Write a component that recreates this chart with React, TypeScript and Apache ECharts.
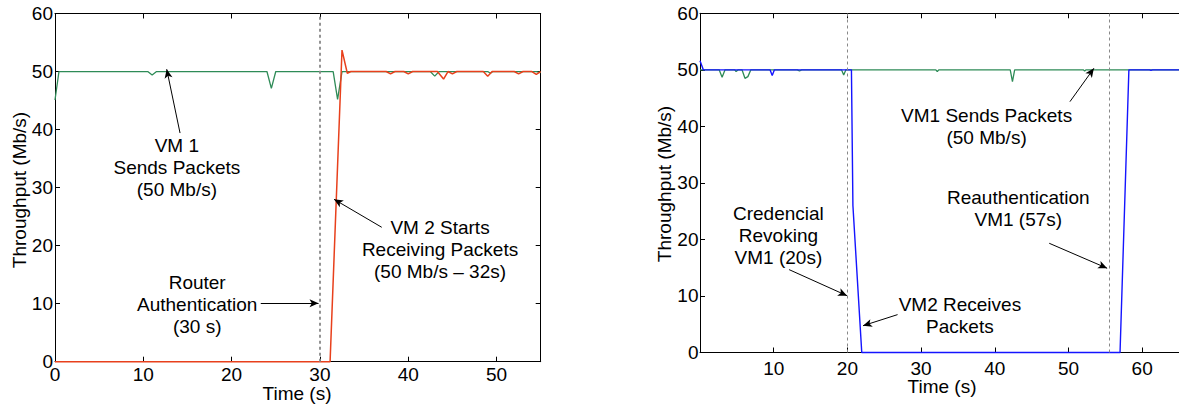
import React, { useEffect, useRef } from "react";
import * as echarts from "echarts";

// ---------- data (time in s, throughput in Mb/s) ----------
const leftVm1: [number, number][] = [
  [0, 45.1], [0.45, 50], [10.5, 50], [11, 49.4], [11.5, 50], [24, 50], [24.5, 47.1], [25, 50],
  [31.5, 50], [32, 45.2], [32.5, 50], [42.5, 50], [43, 49.2], [43.5, 50], [49, 50], [49.3, 49.7],
  [49.6, 50], [54.5, 50], [55, 49.8],
];
const leftVm2: [number, number][] = [
  [0, 0], [31.15, 0], [32.5, 53.7], [33.1, 49.7], [33.5, 50], [37.5, 50], [38, 49.6], [38.5, 50],
  [39.5, 50], [40, 49.6], [40.5, 50], [43.3, 50], [44, 48.7], [44.5, 50], [45, 49.6], [45.5, 50],
  [48.5, 50], [49, 49.2], [49.5, 50], [52, 50], [52.5, 49.6], [53, 50], [54, 50], [54.5, 49.5], [55, 50],
];
const rightVm1: [number, number][] = [
  [0, 50], [2.6, 50], [3, 48.7], [3.4, 50], [4.7, 50], [4.9, 49.7], [5.2, 50], [5.7, 50], [6.1, 48.5],
  [6.5, 48.8], [6.9, 50], [13.2, 50], [13.5, 49.8], [13.8, 50], [19.2, 50], [19.5, 49.1], [19.8, 50],
  [32, 50], [32.2, 49.7], [32.4, 50], [42.1, 50], [42.4, 47.9], [42.7, 50], [52, 50], [52.2, 49.8],
  [52.4, 50], [65, 50],
];
const rightVm2: [number, number][] = [
  [0, 51.6], [0.45, 50], [9.5, 50], [9.8, 49], [10.1, 50], [20.55, 50], [20.75, 26], [21.95, 0],
  [57, 0], [58.2, 50], [61, 50], [61.2, 49.9], [61.4, 50], [65, 50],
];

// axis extents
const leftXMax = 55;
const rightXMax = 65;
const yMax = 60;
const tickStep = 10;

// event markers (s)
const leftEvents = [30];
const rightEvents = [20, 55.5];

// annotation texts, anchored at data coordinates
const leftNotes = [
  { text: "VM 1\nSends Packets\n(50 Mb/s)", at: [13.8, 33.5] },
  { text: "Router\nAuthentication\n(30 s)", at: [16.1, 9.94] },
  { text: "VM 2 Starts\nReceiving Packets\n(50 Mb/s \u2013 32s)", at: [43.6, 19.4] },
];
const leftArrows = [
  [[14.16, 39.4], [12.65, 50.4]],
  [[23.3, 10.06], [29.84, 10.06]],
  [[37.0, 23.16], [31.6, 27.98]],
];
const rightNotes = [
  { text: "VM1 Sends Packets\n(50 Mb/s)", at: [38.89, 40.03] },
  { text: "Reauthentication\nVM1 (57s)", at: [43.19, 25.56] },
  { text: "Credencial\nRevoking\nVM1 (20s)", at: [10.64, 20.66] },
  { text: "VM2 Receives\nPackets", at: [35.27, 6.51] },
];
const rightArrows = [
  [[50.2, 44.37], [53.45, 50.27]],
  [[47.39, 19.32], [55.25, 14.9]],
  [[12.09, 14.66], [19.95, 10.05]],
  [[26.81, 6.7], [22.12, 4.74]],
];

const xTitle = "Time (s)";
const yTitle = "Throughput (Mb/s)";

// ---------- styles ----------
const FONT = "'Liberation Sans', Arial, Helvetica, sans-serif";
const FS = 19;
const GREEN = "#2e8b57";
const RED = "#e8401c";
const BLUE = "#1414ff";

function xAxisCfg(grid: number, max: number, pos: "top" | "bottom", margin: number, hideMin: boolean) {
  return {
    type: "value",
    gridIndex: grid,
    position: pos,
    min: 0,
    max,
    interval: tickStep,
    axisLine: { show: true, onZero: false, lineStyle: { color: "#000", width: 1 } },
    axisTick: { show: true, inside: true, length: 5, lineStyle: { color: "#000", width: 1 } },
    axisLabel: {
      show: pos === "bottom",
      margin,
      color: "#000",
      fontSize: FS,
      fontFamily: FONT,
      showMinLabel: !hideMin,
      showMaxLabel: false,
    },
    splitLine: { show: false },
  };
}
function yAxisCfg(grid: number, pos: "left" | "right", margin: number) {
  return {
    type: "value",
    gridIndex: grid,
    position: pos,
    min: 0,
    max: yMax,
    interval: tickStep,
    axisLine: { show: true, onZero: false, lineStyle: { color: "#000", width: 1 } },
    axisTick: { show: true, inside: true, length: 5, lineStyle: { color: "#000", width: 1 } },
    axisLabel: { show: pos === "left", margin, color: "#000", fontSize: FS, fontFamily: FONT },
    splitLine: { show: false },
  };
}

function eventLines(events: number[], width: number) {
  return {
    silent: true,
    symbol: ["none", "none"],
    label: { show: false },
    emphasis: { disabled: true },
    lineStyle: { color: "#888", width, type: [3, 3] },
    data: events.map((e) => ({ xAxis: e })),
  };
}
function arrowLines(arrows: number[][][]) {
  return {
    silent: true,
    symbol: ["none", "arrow"],
    symbolSize: [6, 9],
    label: { show: false },
    emphasis: { disabled: true },
    lineStyle: { color: "#000", width: 1, type: "solid" },
    itemStyle: { color: "#000" },
    data: arrows.map(([a, b]) => [{ coord: a }, { coord: b }]),
  };
}

export default function App() {
  const ref = useRef<HTMLDivElement>(null);
  useEffect(() => {
    if (!ref.current) return;
    const chart = echarts.init(ref.current, null, { renderer: "svg" });
    const option: any = {
      animation: false,
      backgroundColor: "#fff",
      grid: [
        { left: 55, right: 638.3, top: 13.5, bottom: 46.3 },
        { left: 700, right: -6.6, top: 13.3, bottom: 55.5 },
      ],
      xAxis: [
        xAxisCfg(0, leftXMax, "bottom", 3.5, false),
        xAxisCfg(0, leftXMax, "top", 4, false),
        xAxisCfg(1, rightXMax, "bottom", 6, true),
        xAxisCfg(1, rightXMax, "top", 6, true),
      ],
      yAxis: [yAxisCfg(0, "left", 2), yAxisCfg(0, "right", 2), yAxisCfg(1, "left", 1.5)],
      series: [
        {
          type: "line", xAxisIndex: 0, yAxisIndex: 0, data: leftVm1, symbol: "none",
          lineStyle: { color: GREEN, width: 1.3 }, silent: true, clip: false, z: 3,
          markLine: eventLines(leftEvents, 1.8),
        },
        {
          type: "line", xAxisIndex: 0, yAxisIndex: 0, data: leftVm2, symbol: "none",
          lineStyle: { color: RED, width: 1.5 }, silent: true, clip: false, z: 4,
          markLine: arrowLines(leftArrows),
        },
        {
          type: "line", xAxisIndex: 2, yAxisIndex: 2, data: rightVm1, symbol: "none",
          lineStyle: { color: GREEN, width: 1.3 }, silent: true, clip: false, z: 3,
          markLine: eventLines(rightEvents, 1),
        },
        {
          type: "line", xAxisIndex: 2, yAxisIndex: 2, data: rightVm2, symbol: "none",
          lineStyle: { color: BLUE, width: 1.4 }, silent: true, clip: false, z: 4,
          markLine: arrowLines(rightArrows),
        },
      ],
    };
    chart.setOption(option);

    const txt = (x: number, y: number, text: string, rotation = 0) => ({
      type: "text",
      x,
      y,
      rotation,
      silent: true,
      style: {
        text,
        fill: "#000",
        fontSize: FS,
        fontFamily: FONT,
        lineHeight: 22,
        align: "center",
        verticalAlign: "middle",
        textAlign: "center",
        textVerticalAlign: "middle",
      },
    });
    const graphics: any[] = [];
    leftNotes.forEach((n) => {
      const p = chart.convertToPixel({ gridIndex: 0 }, n.at) as number[];
      graphics.push(txt(p[0], p[1], n.text));
    });
    rightNotes.forEach((n) => {
      const p = chart.convertToPixel({ gridIndex: 1 }, n.at) as number[];
      graphics.push(txt(p[0], p[1], n.text));
    });
    graphics.push(txt(297, 393, xTitle));
    graphics.push(txt(942, 386, xTitle));
    graphics.push(txt(19, 190, yTitle, Math.PI / 2));
    graphics.push(txt(664, 184, yTitle, Math.PI / 2));
    chart.setOption({ graphic: graphics });

    return () => chart.dispose();
  }, []);
  return (
    <div
      ref={ref}
      style={{ position: "absolute", left: 0, top: 0, width: 1179, height: 408, background: "#fff" }}
    />
  );
}
